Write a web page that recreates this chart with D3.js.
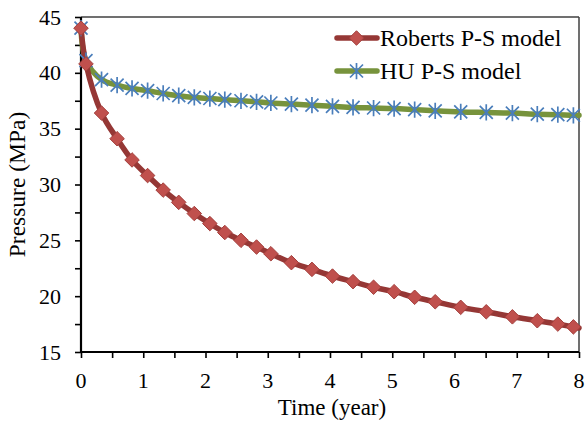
<!DOCTYPE html>
<html>
<head>
<meta charset="utf-8">
<script src="https://cdn.jsdelivr.net/npm/d3@7/dist/d3.min.js"></script>
<style>
  html, body { margin: 0; padding: 0; background: #fff; }
  text { font-family: "Liberation Serif", "Times New Roman", Times, "DejaVu Serif", serif; }
</style>
</head>
<body>
<svg id="chart" width="585" height="421"></svg>
<script>
// Simulation output times (years); the last entry closes the curve at t = 8
const times = [0, 0.08, 0.33, 0.58, 0.82, 1.07, 1.32, 1.57, 1.82, 2.07, 2.31, 2.57, 2.82,
  3.05, 3.38, 3.71, 4.04, 4.37, 4.70, 5.03, 5.36, 5.69, 6.10, 6.51, 6.93, 7.33, 7.66, 7.91, 8.0];

// Pressure (MPa) predicted by each pressure-sensitive model
const robertsPressure = [44.0, 40.8, 36.4, 34.1, 32.2, 30.8, 29.5, 28.4, 27.4, 26.5, 25.7, 25.0, 24.4,
  23.8, 23.0, 22.4, 21.8, 21.3, 20.8, 20.4, 19.9, 19.5, 19.0, 18.6, 18.15, 17.8, 17.5, 17.25, 17.15];
const huPressure = [44.0, 41.1, 39.4, 38.9, 38.6, 38.4, 38.15, 37.95, 37.8, 37.7, 37.6, 37.5, 37.4,
  37.3, 37.2, 37.1, 37.0, 36.9, 36.85, 36.8, 36.7, 36.6, 36.5, 36.45, 36.4, 36.3, 36.25, 36.2, 36.2];

const seriesNames = ["Roberts P-S model", "HU P-S model"];

const xTickValues = [0, 1, 2, 3, 4, 5, 6, 7, 8];
const yTickValues = [15, 20, 25, 30, 35, 40, 45];

const FONT = '"Liberation Serif", "Times New Roman", Times, "DejaVu Serif", serif';

const svg = d3.select("#chart");
const plot = { left: 81, right: 579, top: 17, bottom: 352 };

const x = d3.scaleLinear().domain([0, 8]).range([plot.left, plot.right]);
const y = d3.scaleLinear().domain([15, 45]).range([plot.bottom, plot.top]);

// Frame: thin grey top/right edges
svg.append("line").attr("x1", plot.left).attr("x2", plot.right)
  .attr("y1", plot.top).attr("y2", plot.top)
  .attr("stroke", "#404040").attr("stroke-width", 1.5);
svg.append("line").attr("x1", plot.right).attr("x2", plot.right)
  .attr("y1", plot.top).attr("y2", plot.bottom)
  .attr("stroke", "#404040").attr("stroke-width", 1.5);

// Minor ticks every half unit on both axes
const minorX = d3.range(0, 8.01, 0.5);
const minorY = d3.range(15, 45.01, 2.5);

const xAxis = svg.append("g")
  .attr("transform", `translate(0,${plot.bottom})`)
  .call(d3.axisBottom(x).tickValues(minorX).tickSize(6).tickFormat(""));
const yAxis = svg.append("g")
  .attr("transform", `translate(${plot.left},0)`)
  .call(d3.axisLeft(y).tickValues(minorY).tickSize(6).tickFormat(""));

[xAxis, yAxis].forEach(g => {
  g.select(".domain").attr("stroke", "#000").attr("stroke-width", 2.2);
  g.selectAll(".tick line").attr("stroke", "#000").attr("stroke-width", 1.6);
});
xAxis.select(".domain").attr("d", `M${plot.left - 1},0H${plot.right}`);
yAxis.select(".domain").attr("d", `M0,${plot.top}V${plot.bottom + 1}`);

// Tick labels
svg.append("g").selectAll("text").data(xTickValues).join("text")
  .attr("x", d => x(d)).attr("y", plot.bottom + 36)
  .attr("text-anchor", "middle").attr("font-size", 22).attr("font-family", FONT).attr("fill", "#000")
  .text(d => d);
svg.append("g").selectAll("text").data(yTickValues).join("text")
  .attr("x", plot.left - 20).attr("y", d => y(d) + 7.5)
  .attr("text-anchor", "end").attr("font-size", 22).attr("font-family", FONT).attr("fill", "#000")
  .text(d => d);

// Axis titles
svg.append("text")
  .attr("x", (plot.left + plot.right) / 2 + 2).attr("y", 415)
  .attr("text-anchor", "middle").attr("font-size", 23).attr("font-family", FONT).attr("fill", "#000")
  .text("Time (year)");
svg.append("text")
  .attr("transform", `translate(25,${(plot.top + plot.bottom) / 2}) rotate(-90)`)
  .attr("text-anchor", "middle").attr("font-size", 23.5).attr("font-family", FONT).attr("fill", "#000")
  .text("Pressure (MPa)");

const line = d3.line()
  .x(d => x(d[0])).y(d => y(d[1]))
  .curve(d3.curveCatmullRom.alpha(0.5));

const robertsData = times.map((t, i) => [t, robertsPressure[i]]);
const huData = times.map((t, i) => [t, huPressure[i]]);
// markers sit on the output times; the closing point at t = 8 carries no marker
const markerCount = times.length - 1;

const diamond = d3.symbol().type(d3.symbolDiamond2).size(135);

function drawStar(g, cx, cy, r) {
  g.append("path")
    .attr("d", `M${cx - r},${cy - r}L${cx + r},${cy + r}M${cx - r},${cy + r}L${cx + r},${cy - r}M${cx},${cy - r * 1.25}L${cx},${cy + r * 1.25}`)
    .attr("stroke", "#4A7EBB").attr("stroke-width", 1.7).attr("fill", "none");
}

// HU series
svg.append("path").datum(huData).attr("d", line)
  .attr("fill", "none").attr("stroke", "#77933C").attr("stroke-width", 5.5)
  .attr("stroke-linejoin", "round").attr("stroke-linecap", "round");

// Roberts series
svg.append("path").datum(robertsData).attr("d", line)
  .attr("fill", "none").attr("stroke", "#953735").attr("stroke-width", 5.5)
  .attr("stroke-linejoin", "round").attr("stroke-linecap", "round");

const huMarks = svg.append("g");
const robMarks = svg.append("g");
robertsData.slice(0, markerCount).forEach(d => {
  robMarks.append("path").attr("d", diamond)
    .attr("transform", `translate(${x(d[0])},${y(d[1])})`)
    .attr("fill", "#C0504D").attr("stroke", "#A33F3C").attr("stroke-width", 1);
});
huData.slice(0, markerCount).forEach(d => drawStar(huMarks, x(d[0]), y(d[1]), 6.5));

// Legend
const legend = svg.append("g");
const legendRows = [
  { name: seriesNames[0], color: "#953735", kind: "diamond", y: 38 },
  { name: seriesNames[1], color: "#77933C", kind: "star", y: 71 }
];
legendRows.forEach(r => {
  legend.append("line").attr("x1", 337).attr("x2", 377).attr("y1", r.y).attr("y2", r.y)
    .attr("stroke", r.color).attr("stroke-width", 5.5).attr("stroke-linecap", "round");
  if (r.kind === "diamond") {
    legend.append("path").attr("d", diamond).attr("transform", `translate(356.5,${r.y})`)
      .attr("fill", "#C0504D").attr("stroke", "#A33F3C").attr("stroke-width", 1);
  } else {
    drawStar(legend, 356.5, r.y, 6.5);
  }
  legend.append("text").attr("x", 380).attr("y", r.y + 7.5)
    .attr("font-size", 24).attr("font-family", FONT).attr("fill", "#000").text(r.name);
});
</script>
</body>
</html>
